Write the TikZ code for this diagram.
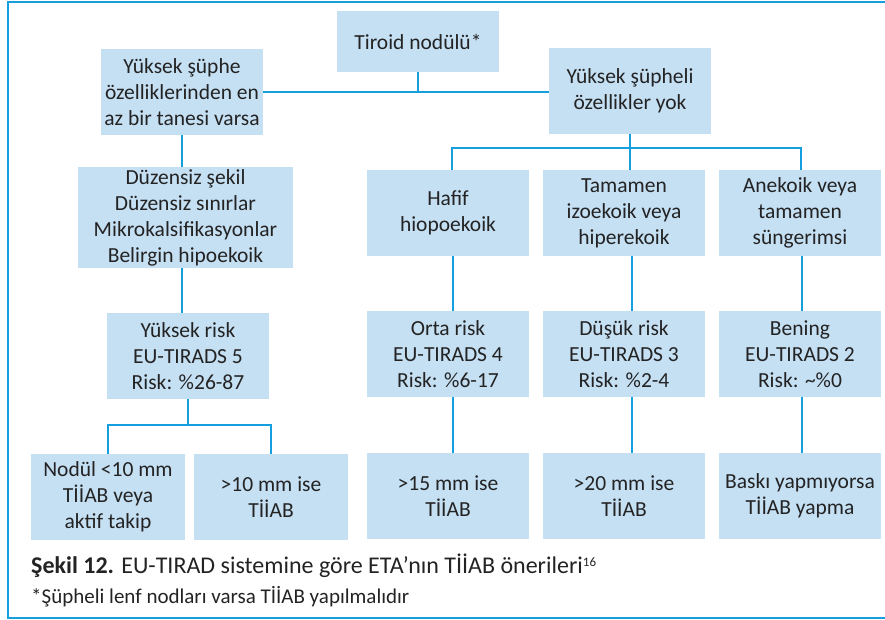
\documentclass[tikz,border=0pt]{standalone}
\usepackage{fontspec}
\setmainfont{Carlito}
\usetikzlibrary{calc}
\definecolor{boxblue}{RGB}{197,223,243}
\definecolor{linecol}{RGB}{20,160,222}
\definecolor{txt}{RGB}{35,35,35}
\begin{document}
\begin{tikzpicture}[x=1pt,y=-1pt,
  box/.style={fill=boxblue, draw=none, minimum width=162pt, minimum height=86pt, inner sep=0pt, align=center, font=\fontsize{21.5}{26}\selectfont, text=txt},
  conn/.style={draw=linecol, line width=1.7pt},
  frame/.style={draw=linecol, line width=1.5pt}]
\useasboundingbox (0,0) rectangle (885,620);
\draw[frame] (890,2) -- (8,2) -- (8,618) -- (890,618);
% boxes
\node[box, minimum height=61pt] (tiroid) at (418,41.5) {Tiroid nodülü*};
\node[box] (ys) at (182,92) {Yüksek şüphe\\özelliklerinden en\\az bir tanesi varsa};
\node[box] (yok) at (630,91) {Yüksek şüpheli\\özellikler yok};
\node[box, minimum width=215pt, minimum height=101pt] (duz) at (185.5,217.5) {Düzensiz şekil\\Düzensiz sınırlar\\Mikrokalsifikasyonlar\\Belirgin hipoekoik};
\node[box] (hafif) at (448,213) {Hafif\\hiopoekoik};
\node[box] (tam) at (624,213) {Tamamen\\izoekoik veya\\hiperekoik};
\node[box] (anek) at (800,213) {Anekoik veya\\tamamen\\süngerimsi};
\node[box] (yr) at (188,356) {Yüksek risk\\EU-TIRADS 5\\Risk: \%26-87};
\node[box] (orta) at (448,354) {Orta risk\\EU-TIRADS 4\\Risk: \%6-17};
\node[box] (dusuk) at (624,354) {Düşük risk\\EU-TIRADS 3\\Risk: \%2-4};
\node[box] (ben) at (800,354) {Bening\\EU-TIRADS 2\\Risk: \textasciitilde\%0};
\node[box, minimum width=154pt] (nod) at (108,497) {Nodül <10 mm\\TİİAB veya\\aktif takip};
\node[box, minimum width=154pt] (m10) at (271,497) {>10 mm ise\\TİİAB};
\node[box] (m15) at (448,496) {>15 mm ise\\TİİAB};
\node[box] (m20) at (624,496) {>20 mm ise\\TİİAB};
\node[box] (bas) at (800,496) {Baskı yapmıyorsa\\TİİAB yapma};
% connectors
\draw[conn] (ys.east) -- (ys.east -| yok.west);
\draw[conn] (tiroid.south) -- (tiroid.south |- ys.east);
\draw[conn] (ys.south) -- (ys.south |- duz.north);
\draw[conn] (yok.south) -- (yok.south |- tam.north);
\draw[conn] ($(hafif.north)+(4,0)$) -- ++(0,-22) -| ($(anek.north)+(1,0)$);
\draw[conn] ($(duz.south)+(-3.5,0)$) -- ($(yr.north)+(-6,0)$);
\draw[conn] (yr.south) -- ++(0,26);
\draw[conn] (nod.north) -- ++(0,-29) -| (m10.north);
\draw[conn] ($(hafif.south)+(5,0)$) -- ($(orta.north)+(5,0)$);
\draw[conn] ($(tam.south)+(8,0)$) -- ($(dusuk.north)+(8,0)$);
\draw[conn] ($(anek.south)+(2,0)$) -- ($(ben.north)+(2,0)$);
\draw[conn] ($(orta.south)+(5,0)$) -- ($(m15.north)+(5,0)$);
\draw[conn] ($(dusuk.south)+(8,0)$) -- ($(m20.north)+(8,0)$);
\draw[conn] ($(ben.south)+(2,0)$) -- ($(bas.north)+(2,0)$);
% caption
\node[anchor=base west, inner sep=0pt, text=txt, font=\fontsize{24}{28}\selectfont] (cap) at (31,573) {\textbf{Şekil 12.} EU-TIRAD sistemine göre ETA’nın TİİAB önerileri\raisebox{7pt}{\fontsize{13}{15}\selectfont 16}};
\node[anchor=base west, inner sep=0pt, text=txt, font=\fontsize{21}{25}\selectfont] (fn) at (31,603) {*Şüpheli lenf nodları varsa TİİAB yapılmalıdır};
\end{tikzpicture}
\end{document}
